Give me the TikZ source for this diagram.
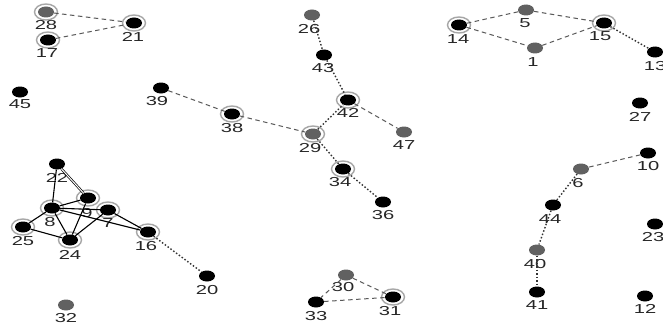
\documentclass[tikz,border=0pt]{standalone}
\usepackage{fontspec}
\newfontfamily\lblfont[FakeStretch=1.55]{Liberation Sans}
\usetikzlibrary{shapes.geometric}
\tikzset{
  vb/.style={ellipse, fill=black, minimum width=16pt, minimum height=11pt, inner sep=0pt},
  vg/.style={ellipse, fill=black!62, minimum width=16pt, minimum height=11pt, inner sep=0pt},
  rng/.style={ellipse, draw=black!35, line width=1.4pt, fill=white, minimum width=23pt, minimum height=16pt, inner sep=0pt},
  lab/.style={font=\lblfont\fontsize{13}{13}\selectfont, text=black!85, inner sep=0pt},
  dsh/.style={draw=black!65, line width=1pt, dash pattern=on 4.5pt off 3.5pt},
  dtt/.style={draw=black!80, line width=1.4pt, dash pattern=on 1.5pt off 2pt},
  sol/.style={draw=black, line width=1.1pt},
}
\begin{document}
\begin{tikzpicture}[x=1pt,y=-1pt]
\useasboundingbox[fill=white] (0,0) rectangle (663,329);
% ring backgrounds
\foreach \p in {(46,12),(134,23),(48,40),(232,114),(313,134),(348,100),(343,169),(459,25),(604,23),(393,297),(52,208),(88,198),(108,210),(23,227),(70,240),(148,232)}
  \node[rng] at \p {};
% nodes
\node[vg] (n28) at (46,12) {};   \node[lab] (l28) at (46,25) {28};
\node[vb] (n21) at (134,23) {};  \node[lab] (l21) at (133,37) {21};
\node[vb] (n17) at (48,40) {};   \node[lab] (l17) at (47,53) {17};
\node[vb] (n45) at (20,92) {};   \node[lab] (l45) at (20,104) {45};
\node[vb] (n39) at (161,88) {};  \node[lab] (l39) at (157,101) {39};
\node[vb] (n38) at (232,114) {}; \node[lab] (l38) at (232,128) {38};
\node[vg] (n29) at (313,134) {}; \node[lab] (l29) at (310,148) {29};
\node[vb] (n42) at (348,100) {}; \node[lab] (l42) at (348,113) {42};
\node[vg] (n47) at (404,132) {}; \node[lab] (l47) at (404,145) {47};
\node[vg] (n26) at (312,15) {};  \node[lab] (l26) at (309,29) {26};
\node[vb] (n43) at (324,55) {};  \node[lab] (l43) at (323,68) {43};
\node[vb] (n34) at (343,169) {}; \node[lab] (l34) at (340,182) {34};
\node[vb] (n36) at (383,202) {}; \node[lab] (l36) at (383,215) {36};
\node[vb] (n14) at (459,25) {};  \node[lab] (l14) at (458,39) {14};
\node[vg] (n5) at (526,10) {};   \node[lab] (l5) at (525,23) {5};
\node[vb] (n15) at (604,23) {};  \node[lab] (l15) at (600,36) {15};
\node[vg] (n1) at (535,48) {};   \node[lab] (l1) at (533,62) {1};
\node[vb] (n13) at (655,52) {};  \node[lab] (l13) at (655,66) {13};
\node[vb] (n27) at (640,103) {}; \node[lab] (l27) at (640,117) {27};
\node[vb] (n10) at (648,153) {}; \node[lab] (l10) at (648,166) {10};
\node[vg] (n6) at (581,169) {};  \node[lab] (l6) at (578,183) {6};
\node[vb] (n44) at (553,205) {}; \node[lab] (l44) at (550,219) {44};
\node[vg] (n40) at (537,250) {}; \node[lab] (l40) at (535,264) {40};
\node[vb] (n41) at (537,292) {}; \node[lab] (l41) at (537,305) {41};
\node[vb] (n23) at (655,224) {}; \node[lab] (l23) at (653,237) {23};
\node[vb] (n12) at (645,296) {}; \node[lab] (l12) at (645,309) {12};
\node[vg] (n30) at (346,275) {}; \node[lab] (l30) at (343,287) {30};
\node[vb] (n33) at (316,302) {}; \node[lab] (l33) at (316,316) {33};
\node[vb] (n31) at (393,297) {}; \node[lab] (l31) at (390,311) {31};
\node[vg] (n32) at (66,305) {};  \node[lab] (l32) at (66,318) {32};
\node[vb] (n20) at (207,276) {}; \node[lab] (l20) at (207,290) {20};
\node[vb] (n22) at (57,164) {};  \node[lab] (l22) at (57,178) {22};
\node[vb] (n8) at (52,208) {};   \node[lab] (l8) at (50,222) {8};
\node[vb] (n9) at (88,198) {};   \node[lab] (l9) at (87,213) {9};
\node[vb] (n7) at (108,210) {};  \node[lab] (l7) at (108,223) {7};
\node[vb] (n25) at (23,227) {};  \node[lab] (l25) at (23,241) {25};
\node[vb] (n24) at (70,240) {};  \node[lab] (l24) at (70,255) {24};
\node[vb] (n16) at (148,232) {}; \node[lab] (l16) at (146,246) {16};
% edges
\draw[dsh] (n28) -- (n21);
\draw[dsh] (n17) -- (n21);
\draw[dsh] (n39) -- (n38);
\draw[dsh] (n38) -- (n29);
\draw[dtt] (n29) -- (n42);
\draw[dsh] (n42) -- (n47);
\draw[dtt] (n26) -- (n43);
\draw[dtt] (n43) -- (n42);
\draw[dtt] (n29) -- (n34);
\draw[dtt] (n34) -- (n36);
\draw[dsh] (n14) -- (n5);
\draw[dsh] (n5) -- (n15);
\draw[dsh] (n14) -- (n1);
\draw[dsh] (n1) -- (n15);
\draw[dtt] (n15) -- (n13);
\draw[dsh] (n10) -- (n6);
\draw[dtt] (n6) -- (n44);
\draw[dtt] (n44) -- (n40);
\draw[dtt] (n40) -- (n41);
\draw[dsh] (n30) -- (n33);
\draw[dsh] (n30) -- (n31);
\draw[dsh] (n33) -- (n31);
\draw[dtt] (n16) -- (n20);
\draw[sol] (n22) -- (n8);
\draw[sol, double=white, double distance=1pt, line width=0.7pt] (n22) -- (n9);
\draw[sol] (n8) -- (n9);
\draw[sol] (n8) -- (n7);
\draw[sol] (n8) -- (n24);
\draw[sol] (n9) -- (n24);
\draw[sol] (n7) -- (n24);
\draw[sol] (n25) -- (n24);
\draw[sol] (n25) -- (n8);
\draw[sol] (n8) -- (n16);
\draw[sol] (n7) -- (n16);
\end{tikzpicture}
\end{document}
